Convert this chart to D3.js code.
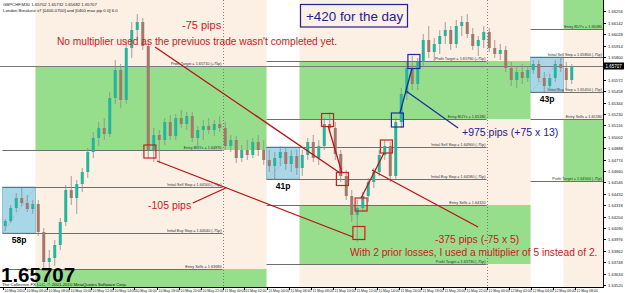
<!DOCTYPE html>
<html>
<head>
<meta charset="utf-8">
<script src="https://cdn.jsdelivr.net/npm/d3@7"></script>
<style>
  body { margin: 0; background: #fff; }
  svg { display: block; font-family: Arial, "Liberation Sans", sans-serif; }
</style>
</head>
<body>
<div id="chart"></div>
<script>
// ---- data ----
// M30 candles from 10 May 2010 04:00, [open, high, low, close]
const candles = [
  [1.6411,1.6418,1.6406,1.6416],[1.6416,1.6432,1.6414,1.6429],[1.6429,1.6444,1.6425,1.6439],[1.6439,1.6449,1.6431,1.6434],
  [1.6434,1.6442,1.6425,1.6428],[1.6428,1.6437,1.6423,1.6433],[1.6433,1.6437,1.6401,1.6405],[1.6405,1.6409,1.6369,1.6375],
  [1.6375,1.6387,1.6355,1.6379],[1.6379,1.6397,1.6371,1.6392],[1.6392,1.6419,1.6387,1.6415],[1.6415,1.6452,1.6411,1.6447],
  [1.6447,1.6461,1.6432,1.6439],[1.6439,1.6457,1.6423,1.6453],[1.6453,1.6469,1.6445,1.6465],[1.6465,1.6489,1.6459,1.6485],
  [1.6485,1.6505,1.6479,1.6499],[1.6499,1.6515,1.6491,1.6509],[1.6509,1.6519,1.6497,1.6503],[1.6503,1.6545,1.6500,1.6539],
  [1.6539,1.6577,1.6533,1.6567],[1.6567,1.6573,1.6529,1.6537],[1.6537,1.6597,1.6533,1.6589],[1.6589,1.6615,1.6579,1.6607],
  [1.6607,1.6623,1.6597,1.6615],[1.6615,1.6619,1.6587,1.6591],[1.6591,1.6597,1.6479,1.6487],[1.6487,1.6509,1.6475,1.6502],
  [1.6502,1.6507,1.6474,1.6497],[1.6497,1.6519,1.6492,1.6515],[1.6515,1.6522,1.6497,1.6501],[1.6501,1.6523,1.6497,1.6519],
  [1.6519,1.6527,1.6509,1.6513],[1.6513,1.6525,1.6507,1.6521],[1.6521,1.6525,1.6495,1.6499],[1.6499,1.6511,1.6489,1.6507],
  [1.6507,1.6517,1.6497,1.6511],[1.6511,1.6519,1.6503,1.6507],[1.6507,1.6517,1.6501,1.6513],[1.6513,1.6521,1.6505,1.6509],
  [1.6509,1.6515,1.6487,1.6491],[1.6491,1.6502,1.6485,1.6497],[1.6497,1.6501,1.6474,1.6479],[1.6479,1.6492,1.6475,1.6487],
  [1.6487,1.6497,1.6477,1.6482],[1.6482,1.6499,1.6479,1.6495],[1.6495,1.6502,1.6481,1.6487],[1.6487,1.6497,1.6472,1.6477],
  [1.6477,1.6487,1.6465,1.6471],[1.6471,1.6485,1.6458,1.6479],[1.6479,1.6491,1.6471,1.6485],[1.6485,1.6489,1.6467,1.6473],
  [1.6473,1.6487,1.6465,1.6481],[1.6481,1.6487,1.6462,1.6469],[1.6469,1.6487,1.6461,1.6482],[1.6482,1.6499,1.6477,1.6495],
  [1.6495,1.6502,1.6475,1.6479],[1.6479,1.6497,1.6472,1.6491],[1.6491,1.6519,1.6487,1.6513],[1.6513,1.6525,1.6505,1.6509],
  [1.6509,1.6515,1.6477,1.6483],[1.6483,1.6487,1.6455,1.6461],[1.6461,1.6467,1.6437,1.6441],[1.6441,1.6447,1.6415,1.6422],
  [1.6422,1.6437,1.6395,1.6429],[1.6429,1.6445,1.6425,1.6441],[1.6441,1.6459,1.6435,1.6455],[1.6455,1.6469,1.6449,1.6465],
  [1.6465,1.6487,1.6461,1.6482],[1.6482,1.6497,1.6477,1.6491],[1.6491,1.6495,1.6455,1.6461],[1.6461,1.6519,1.6457,1.6515],
  [1.6515,1.6549,1.6509,1.6543],[1.6543,1.6575,1.6537,1.6569],[1.6569,1.6581,1.6547,1.6553],[1.6553,1.6579,1.6547,1.6575],
  [1.6575,1.6603,1.6571,1.6597],[1.6597,1.6611,1.6579,1.6585],[1.6585,1.6599,1.6575,1.6593],[1.6593,1.6607,1.6583,1.6601],
  [1.6601,1.6615,1.6593,1.6607],[1.6607,1.6611,1.6587,1.6593],[1.6593,1.6617,1.6589,1.6611],[1.6611,1.6621,1.6601,1.6615],
  [1.6615,1.6623,1.6599,1.6603],[1.6603,1.6609,1.6587,1.6591],[1.6591,1.6601,1.6581,1.6597],[1.6597,1.6611,1.6589,1.6605],
  [1.6605,1.6609,1.6585,1.6589],[1.6589,1.6597,1.6579,1.6583],[1.6583,1.6593,1.6577,1.6587],[1.6587,1.6591,1.6565,1.6569],
  [1.6569,1.6575,1.6551,1.6557],[1.6557,1.6571,1.6549,1.6565],[1.6565,1.6573,1.6553,1.6559],[1.6559,1.6571,1.6555,1.6567],
  [1.6567,1.6577,1.6563,1.6573],[1.6573,1.6577,1.6555,1.6559],[1.6559,1.6565,1.6545,1.6551],[1.6551,1.6563,1.6547,1.6559],
  [1.6559,1.6577,1.6555,1.6573],[1.6573,1.6580,1.6565,1.6569],[1.6569,1.6575,1.6549,1.6557],[1.6557,1.6573,1.6553,1.6571]
];
const firstBar = new Date(2010, 4, 10, 4, 0);
const barMinutes = 30;
const lastPrice = 1.65707;

// London breakout sessions (one per day)
const sessionDays = [10, 11, 12];
const profitUp   = [1.6571, 1.6576, 1.6666];
const entryBuys  = [1.6487, 1.6518, 1.6608];
const sellStops  = [1.6450, 1.6490, 1.6580];
const buyStops   = [1.6404, 1.6458, 1.6545];
const entrySells = [1.6368, 1.6432, 1.6518];
const profitDown = [1.6284, 1.6373, 1.6456];
const rangeLabels = ["58p", "41p", "43p"];

// trade markers: hours after 10 May 00:00, price
const redMarks  = [[17.4, 1.64855], [33.55, 1.6517], [34.9, 1.6458], [36.6, 1.64325], [36.4, 1.6404], [38.9, 1.64905]];
const blueMarks = [[39.9, 1.6517], [41.4, 1.65755]];

// annotation leader lines: [[h1, p1], [h2, p2]]
const redLines = [
  [[17.86, 1.6590], [34.68, 1.6464]],
  [[18.05, 1.6476], [35.86, 1.6400]],
  [[21.3, 1.6434], [24.3, 1.6449]],
  [[33.6, 1.6511], [34.86, 1.6464]],
  [[36.6, 1.6439], [38.68, 1.6484]],
  [[37.59, 1.6467], [47.23, 1.6410]]
];
const blueLines = [
  [[40.14, 1.6524], [41.23, 1.6569]],
  [[45.41, 1.6509], [40.68, 1.6546]]
];

// axis ticks
const timeTickHours = d3.range(4, 58, 2);
const timeLabels = ["10 May 2010", "10 May 06:00", "10 May 08:00", "10 May 10:00", "10 May 12:00", "10 May 14:00",
  "10 May 16:00", "10 May 18:00", "10 May 20:00", "10 May 22:00", "11 May 00:00", "11 May 02:00", "11 May 04:00",
  "11 May 06:00", "11 May 08:00", "11 May 10:00", "11 May 12:00", "11 May 14:00", "11 May 16:00", "11 May 18:00",
  "11 May 20:00", "11 May 22:00", "12 May 00:00", "12 May 02:00", "12 May 04:00", "12 May 06:00", "12 May 08:00"];
const priceTicks = [1.66256, 1.66142, 1.66028, 1.65914, 1.65800, 1.65686, 1.65572, 1.65458, 1.65344, 1.65230,
  1.65116, 1.65002, 1.64888, 1.64774, 1.64660, 1.64546, 1.64432, 1.64318, 1.64204, 1.64090, 1.63976, 1.63862,
  1.63748, 1.63634, 1.63520];

// ---- chart ----
const W = 625, H = 293;
const plotW = 603, plotH = 287;
const PEACH = "#fcefe4", GREEN = "#96de8c", BOXFILL = "#a9d7e8";
const RED = "#c8201e", NAVY = "#22228c";

const svg = d3.select("#chart").append("svg").attr("width", W).attr("height", H);

const x = d3.scaleTime()
  .domain([new Date(2010, 4, 11), new Date(2010, 4, 12)])
  .range([222.5, 486.5]);
const y = d3.scaleLinear().domain([1.6571, 1.6487]).range([66, 150]);
const hourDate = h => new Date(2010, 4, 10, 0, Math.round(h * 60));
const fmt5 = d3.format(".5f");

svg.append("clipPath").attr("id", "plot")
  .append("rect").attr("width", plotW).attr("height", plotH);
const plot = svg.append("g").attr("clip-path", "url(#plot)");

plot.append("rect").attr("width", plotW).attr("height", plotH).attr("fill", "#fff");

// session zones, boxes and level lines
sessionDays.forEach(function (day, k) {
  const boxStart = new Date(2010, 4, day, 4), boxEnd = new Date(2010, 4, day, 7);
  const zoneEnd = new Date(2010, 4, day + 1, 4), lineEnd = new Date(2010, 4, day + 1, 0);
  const zx = x(boxEnd), zw = x(zoneEnd) - x(boxEnd);

  plot.append("rect").attr("x", zx).attr("y", 0).attr("width", zw).attr("height", plotH).attr("fill", PEACH);
  plot.append("rect").attr("x", zx).attr("y", y(profitUp[k])).attr("width", zw)
    .attr("height", y(entryBuys[k]) - y(profitUp[k])).attr("fill", GREEN);
  plot.append("rect").attr("x", zx).attr("y", y(entrySells[k])).attr("width", zw)
    .attr("height", y(profitDown[k]) - y(entrySells[k])).attr("fill", GREEN);

  plot.append("rect")
    .attr("x", x(boxStart)).attr("y", y(sellStops[k]))
    .attr("width", x(boxEnd) - x(boxStart)).attr("height", y(buyStops[k]) - y(sellStops[k]))
    .attr("fill", BOXFILL).attr("stroke", "#7fb8d2").attr("stroke-width", 0.8);
  plot.append("line")
    .attr("x1", x(boxStart)).attr("y1", y(buyStops[k]))
    .attr("x2", x(boxEnd)).attr("y2", y(sellStops[k]))
    .attr("stroke", "#8aa6b4").attr("stroke-width", 0.6).attr("stroke-dasharray", "1,1");
  plot.append("text")
    .attr("x", (x(boxStart) + x(boxEnd)) / 2).attr("y", y(buyStops[k]) + 10)
    .attr("text-anchor", "middle").attr("font-size", 8.5).attr("font-weight", "bold")
    .text(rangeLabels[k]);

  const levels = [
    [profitUp[k], "Profit Target = " + fmt5(profitUp[k]) + " (+75p)"],
    [entryBuys[k], "Entry BUYs = " + fmt5(entryBuys[k])],
    [sellStops[k], "Initial Sell Stop = " + fmt5(sellStops[k]) + " (-75p)"],
    [buyStops[k], "Initial Buy Stop = " + fmt5(buyStops[k]) + " (-75p)"],
    [entrySells[k], "Entry Sells = " + fmt5(entrySells[k])],
    [profitDown[k], "Profit Target = " + fmt5(profitDown[k]) + " (-75p)"]
  ];
  const labelX = Math.min(x(lineEnd), plotW) - 1;
  levels.forEach(function (lv) {
    const ly = y(lv[0]);
    if (ly < 4 || ly > plotH) return;
    plot.append("line")
      .attr("x1", x(boxStart)).attr("x2", x(lineEnd))
      .attr("y1", Math.round(ly) + 0.5).attr("y2", Math.round(ly) + 0.5)
      .attr("stroke", "#6f6f6f").attr("stroke-width", 1);
    plot.append("text")
      .attr("x", labelX).attr("y", ly - 1)
      .attr("text-anchor", "end").attr("font-size", 3.8).attr("fill", "#333")
      .text(lv[1]);
  });
});

// day separators
[new Date(2010, 4, 11), new Date(2010, 4, 12)].forEach(function (d) {
  plot.append("line")
    .attr("x1", Math.round(x(d)) + 0.5).attr("x2", Math.round(x(d)) + 0.5)
    .attr("y1", 0).attr("y2", plotH)
    .attr("stroke", "#666").attr("stroke-width", 0.8).attr("stroke-dasharray", "1,2");
});

// current price line
plot.append("line")
  .attr("x1", 0).attr("x2", plotW)
  .attr("y1", Math.round(y(lastPrice)) + 0.5).attr("y2", Math.round(y(lastPrice)) + 0.5)
  .attr("stroke", "#7a7a7a").attr("stroke-width", 1);

// candles
const barCenter = i => x(new Date(firstBar.getTime() + (i + 0.5) * barMinutes * 60000));
const bars = plot.append("g").selectAll("g").data(candles).enter().append("g");
bars.append("line")
  .attr("x1", (d, i) => barCenter(i)).attr("x2", (d, i) => barCenter(i))
  .attr("y1", d => y(d[1])).attr("y2", d => y(d[2]))
  .attr("stroke", "#8c8c8c").attr("stroke-width", 0.8);
bars.append("rect")
  .attr("x", (d, i) => barCenter(i) - 1.5).attr("width", 3)
  .attr("y", d => y(Math.max(d[0], d[3])))
  .attr("height", d => Math.max(1, Math.abs(y(d[0]) - y(d[3]))))
  .attr("fill", d => d[3] >= d[0] ? "#27b49c" : "#a5776b");

// trade markers
plot.selectAll(".redMark").data(redMarks).enter().append("rect")
  .attr("x", d => x(hourDate(d[0])) - 6).attr("y", d => y(d[1]) - 6.5)
  .attr("width", 12).attr("height", 13)
  .attr("fill", "none").attr("stroke", RED).attr("stroke-width", 1.2);
plot.selectAll(".blueMark").data(blueMarks).enter().append("rect")
  .attr("x", d => x(hourDate(d[0])) - 6).attr("y", d => y(d[1]) - 7)
  .attr("width", 12).attr("height", 14)
  .attr("fill", "none").attr("stroke", "#1c2fa0").attr("stroke-width", 1.2);

// leader lines
const seg = d3.line().x(d => x(hourDate(d[0]))).y(d => y(d[1]));
plot.selectAll(".redLine").data(redLines).enter().append("path")
  .attr("d", seg).attr("fill", "none").attr("stroke", "#b81414").attr("stroke-width", 1.3);
plot.selectAll(".blueLine").data(blueLines).enter().append("path")
  .attr("d", seg).attr("fill", "none").attr("stroke", "#1c2fa0").attr("stroke-width", 1.3);

// annotations
function note(txt, tx, ty, size, color) {
  return plot.append("text").attr("x", tx).attr("y", ty).attr("font-size", size).attr("fill", color).text(txt);
}
note("-75 pips", 182, 29, 11, RED);
note("No multiplier used as the previuos trade wasn't completed yet.", 57, 45, 10.2, RED);
note("-105 pips", 148, 209, 10.5, RED);
note("-375 pips (-75 x 5)", 435, 243, 10.4, RED);
note("With 2 prior losses, I used a multiplier of 5 instead of 2.", 350, 256, 10.2, RED);
note("+975 pips (+75 x 13)", 462, 136, 10.5, NAVY);
plot.append("rect").attr("x", 300.5).attr("y", 4.5).attr("width", 107).attr("height", 22.5)
  .attr("fill", "none").attr("stroke", NAVY).attr("stroke-width", 1.2);
note("+420 for the day", 306, 21, 13.4, NAVY);

// header and footer text
note("GBPCHF,M30  1.65702 1.65732 1.65682 1.65707", 3, 6, 4.3, "#222");
note("London Breakout v7 [0400-0700] and [0400 max pip 0.0] 6.0", 3, 12, 4.3, "#222");
note(fmt5(lastPrice), 1, 281.5, 20.5, "#000").attr("font-weight", "bold");
note("The Collective FX LLC, \u00a9 2001-2010 MetaQuotes Software Corp.", 2, 286.3, 4.3, "#111");

// axes
svg.append("line").attr("x1", plotW + 0.5).attr("x2", plotW + 0.5).attr("y1", 0).attr("y2", plotH + 1)
  .attr("stroke", "#000").attr("stroke-width", 1);
svg.append("line").attr("x1", 0).attr("x2", plotW + 1).attr("y1", plotH + 0.5).attr("y2", plotH + 0.5)
  .attr("stroke", "#000").attr("stroke-width", 1);

const yAxis = svg.append("g");
const py = Math.round(y(lastPrice));
priceTicks.forEach(function (p) {
  const ty = Math.round(y(p)) + 0.5;
  yAxis.append("line").attr("x1", plotW).attr("x2", plotW + 3).attr("y1", ty).attr("y2", ty).attr("stroke", "#000");
  if (Math.abs(ty - py) < 6) return;
  yAxis.append("text").attr("x", plotW + 5).attr("y", ty + 1.5).attr("font-size", 4.1).attr("fill", "#222").text(fmt5(p));
});
yAxis.append("rect").attr("x", plotW + 1).attr("y", py - 3.5).attr("width", 20).attr("height", 7).attr("fill", "#000");
yAxis.append("text").attr("x", plotW + 2.5).attr("y", py + 1.8).attr("font-size", 4.5).attr("fill", "#fff").text(fmt5(lastPrice));

const xAxis = svg.append("g");
timeTickHours.forEach(function (h, j) {
  const tx = Math.round(x(hourDate(h))) + 0.5;
  xAxis.append("line").attr("x1", tx).attr("x2", tx).attr("y1", plotH).attr("y2", plotH + 3).attr("stroke", "#000");
  if (tx > plotW - 12) return;
  xAxis.append("text").attr("x", tx + 1).attr("y", plotH + 5.3).attr("font-size", 3.5).attr("fill", "#222").text(timeLabels[j]);
});
</script>
</body>
</html>
